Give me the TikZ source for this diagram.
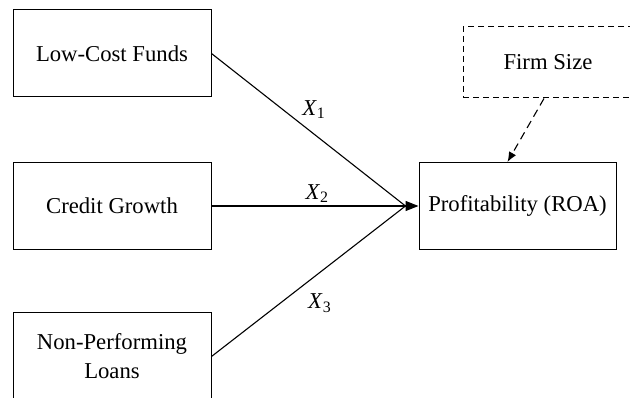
\documentclass[tikz,border=0pt]{standalone}
\usepackage{fontspec}
\setmainfont{Liberation Serif}
\usetikzlibrary{arrows.meta}

\tikzset{
    varbox/.style={draw, line width=1pt, minimum width=198pt, minimum height=87pt,
        inner sep=0pt, align=center},
    ctrlbox/.style={varbox, dash pattern=on 6pt off 4pt, minimum width=170pt, minimum height=71pt},
    link/.style={line width=1.1pt},
    coef/.style={inner sep=3pt}
}

\begin{document}
\begin{tikzpicture}[x=1pt, y=-1pt, font=\fontsize{22.7}{29}\selectfont]
    \useasboundingbox (0, 0) rectangle (630, 398);
    \clip (0, 0) rectangle (630, 398);

    %% independent variables
    \node[varbox] (lcf) at (112, 53.5) {Low-Cost Funds};
    \node[varbox] (cg)  at (112, 206) {Credit Growth};
    \node[varbox] (npl) at (112, 356.5) {Non-Performing\\Loans};

    %% dependent and control
    \node[varbox, minimum width=197pt] (roa) at (517.5, 206) {Profitability (ROA)};
    \node[ctrlbox] (fs) at (548, 62.5) {Firm Size};

    \coordinate (meet) at ([xshift=-13pt]roa.west);

    \draw[link] (lcf.east) -- (meet)
        node[coef, pos=.45, above right] {\textit{X}\textsubscript{1}};
    \draw[link, -{Triangle[length=13pt, width=10pt]}] (cg.east) -- (roa.west)
        node[coef, pos=.51, above] {\textit{X}\textsubscript{2}};
    \draw[link] (npl.east) -- (meet)
        node[coef, pos=.48, below right, yshift=-6pt] {\textit{X}\textsubscript{3}};

    %% moderating effect
    \draw[link, dash pattern=on 8pt off 5pt, -{Latex[length=10pt, width=8pt]}]
        ([xshift=-4pt]fs.south) -- ([xshift=-10pt]roa.north);
\end{tikzpicture}
\end{document}
